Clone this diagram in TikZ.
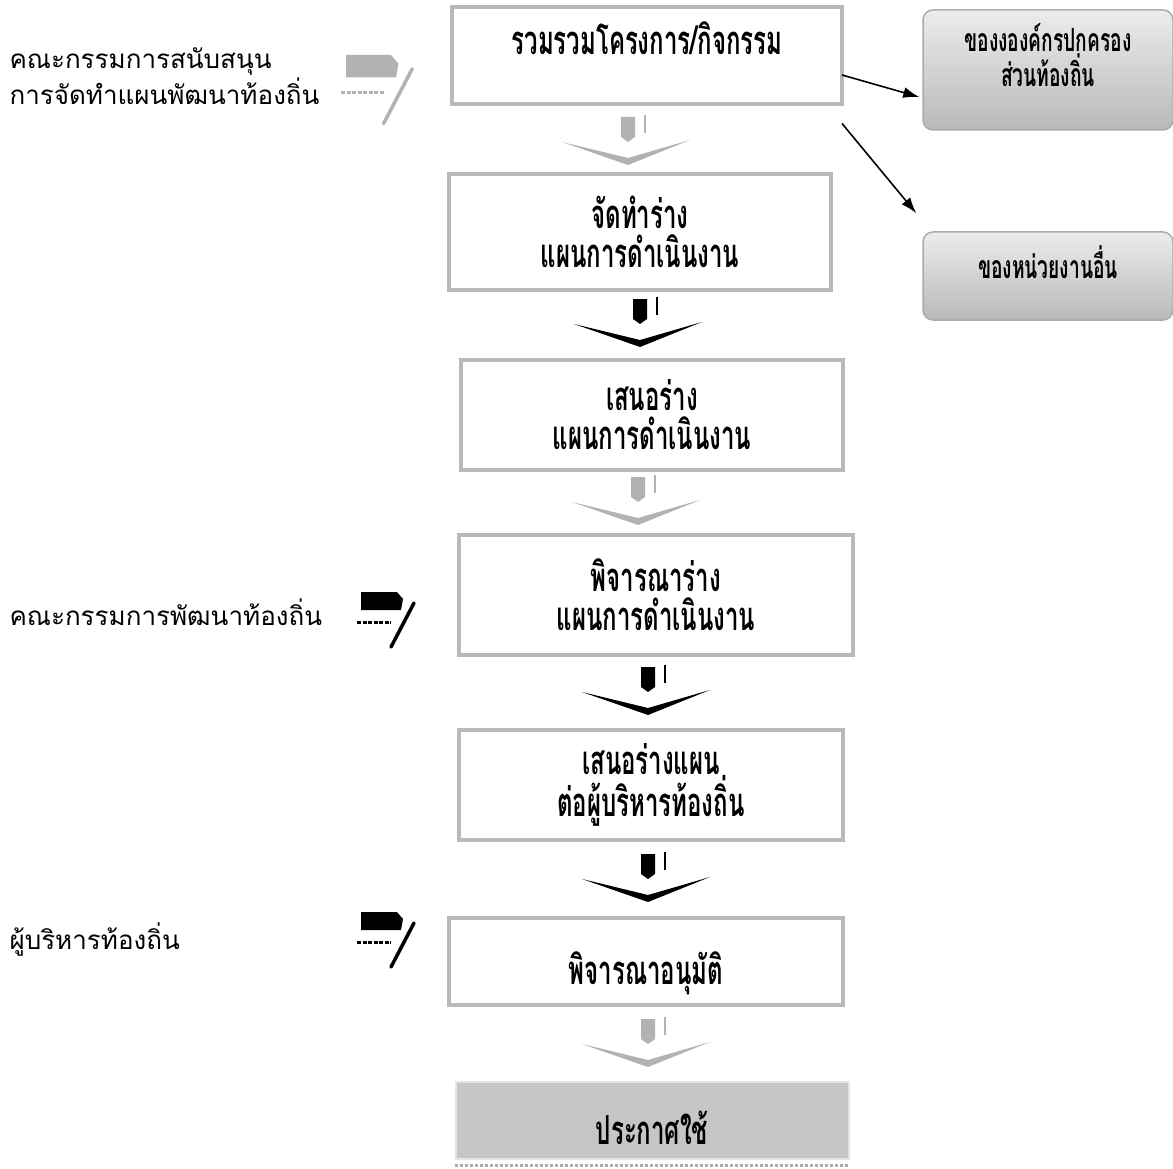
\documentclass[tikz,border=0pt]{standalone}
\usepackage{fontspec}
\newfontfamily\thai[Script=Thai]{Loma}
\newfontfamily\thaic[Script=Thai,FakeStretch=0.6]{Loma}
\usetikzlibrary{calc,arrows.meta}
\tikzset{
  mainbox/.style={draw=gray!55, line width=4pt, fill=white, align=center,
    font=\thaic\bfseries\fontsize{40}{39}\selectfont},
  boxtext/.style={align=center, font=\thaic\bfseries\fontsize{40}{39}\selectfont},
  sidebox/.style={draw=gray!65, line width=1.5pt, rounded corners=10pt, top color=gray!15, bottom color=gray!55,
    minimum width=250pt},
  sidetext/.style={align=center, font=\thaic\bfseries\fontsize{32}{35}\selectfont},
  leftlabel/.style={anchor=west, align=left, font=\thai\fontsize{26}{36}\selectfont},
  link/.style={-{Latex[length=16pt,width=11pt]}, line width=1.6pt},
  pics/darr/.style={code={
    \fill[#1] (-7,-28) -- (7,-28) -- (7,-8) -- (0,-3) -- (-7,-8) -- cycle;
    \draw[#1, line width=1.5pt] (17,-30) -- (17,-12);
    \fill[#1] (-66,-3) -- (0,13) -- (62,-5) -- (0,20) -- cycle;
  }},
  pics/penicon/.style={code={
    \fill[#1] (0,0) -- (36,0) -- (42,7) -- (40,18) -- (0,18) -- cycle;
    \draw[#1, line width=3pt, dash pattern=on 4pt off 1.5pt] (-4,30) -- (30,30);
    \draw[#1, line width=3.5pt, line cap=round] (30,55) -- (53,11);
  }},
}
\begin{document}
\begin{tikzpicture}[x=1pt,y=-1pt]
\useasboundingbox (0,0) rectangle (1173,1169);
\fill[white] (0,0) rectangle (1173,1169);

% main boxes
\node[mainbox, minimum width=390pt, minimum height=97pt] (b1) at (647,56) {};
\node[boxtext] (t1) at (647,38) {รวมรวมโครงการ/กิจกรรม};
\node[mainbox, minimum width=382pt, minimum height=115pt] (b2) at (640,232) {จัดทำร่าง\\แผนการดำเนินงาน};
\node[mainbox, minimum width=382pt, minimum height=110pt] (b3) at (652,415) {เสนอร่าง\\แผนการดำเนินงาน};
\node[mainbox, minimum width=394pt, minimum height=120pt] (b4) at (656,595) {พิจารณาร่าง\\แผนการดำเนินงาน};
\node[mainbox, minimum width=384pt, minimum height=110pt] (b5) at (651,785) {เสนอร่างแผน\\ต่อผู้บริหารท้องถิ่น};
\node[mainbox, minimum width=394pt, minimum height=87pt] (b6) at (646,961) {};
\node[boxtext] (t6) at (646,973) {พิจารณาอนุมัติ};
\node[mainbox, draw=gray!20, fill=gray!45, line width=2pt, minimum width=393pt, minimum height=77pt] (b7) at (652,1120) {};
\node[boxtext] (t7) at (652,1128) {ประกาศใช้};
\draw[gray!65, line width=3pt, dash pattern=on 3pt off 2pt] ($(b7.south west)+(0,6)$) -- ($(b7.south east)+(0,6)$);

% side boxes
\node[sidebox, minimum height=120pt] (r1) at (1048,70) {};
\node[sidetext] (rt1) at (1048,55) {ของงองค์กรปกครอง\\ส่วนท้องถิ่น};
\node[sidebox, minimum height=88pt] (r2) at (1048,276) {};
\node[sidetext] (rt2) at (1048,262) {ของหน่วยงานอื่น};

\draw[link] ($(b1.east)+(-2,19)$) -- ($(r1.west)+(-3,27)$);
\draw[link] ($(b1.south east)+(-2,17)$) -- ($(r2.north west)+(-6,-18)$);

% flow arrows between boxes
\pic at (628,145) {darr=gray!60};
\pic at (640,327) {darr=black};
\pic at (638,505) {darr=gray!60};
\pic at (648,695) {darr=black};
\pic at (648,882) {darr=black};
\pic at (648,1047) {darr=gray!60};

% left labels
\node[leftlabel] (l1) at (6,76) {คณะกรรมการสนับสนุน\\การจัดทำแผนพัฒนาท้องถิ่น};
\node[leftlabel] (l2) at (6,612) {คณะกรรมการพัฒนาท้องถิ่น};
\node[leftlabel] (l3) at (6,940) {ผู้บริหารท้องถิ่น};

% pen icons
\pic[scale=1.25] at (346,55) {penicon=gray!60};
\pic at (361,592) {penicon=black};
\pic at (361,912) {penicon=black};
\end{tikzpicture}
\end{document}
